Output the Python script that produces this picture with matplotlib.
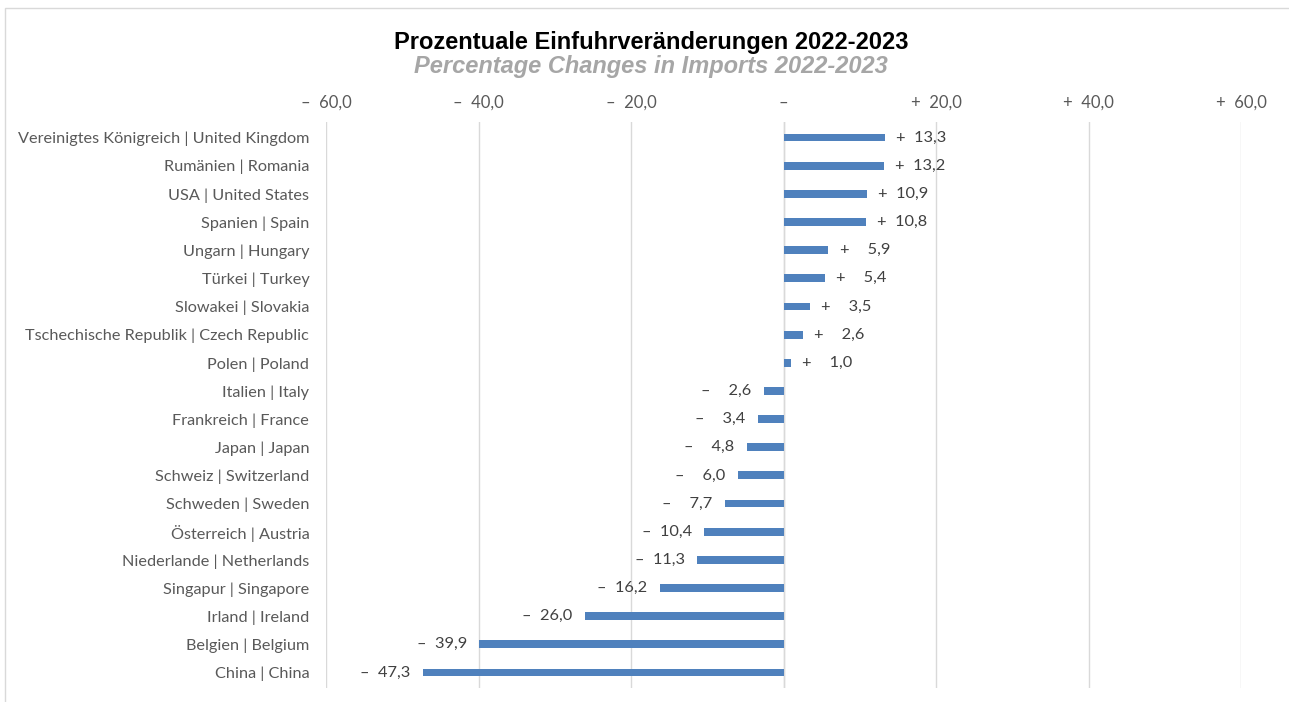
import matplotlib as mpl
import matplotlib.pyplot as plt
from matplotlib.patches import Rectangle

countries = [
    "Vereinigtes Königreich | United Kingdom",
    "Rumänien | Romania",
    "USA | United States",
    "Spanien | Spain",
    "Ungarn | Hungary",
    "Türkei | Turkey",
    "Slowakei | Slovakia",
    "Tschechische Republik | Czech Republic",
    "Polen | Poland",
    "Italien | Italy",
    "Frankreich | France",
    "Japan | Japan",
    "Schweiz | Switzerland",
    "Schweden | Sweden",
    "Österreich | Austria",
    "Niederlande | Netherlands",
    "Singapur | Singapore",
    "Irland | Ireland",
    "Belgien | Belgium",
    "China | China",
]
changes = [13.3, 13.2, 10.9, 10.8, 5.9, 5.4, 3.5, 2.6, 1.0, -2.6, -3.4, -4.8,
           -6.0, -7.7, -10.4, -11.3, -16.2, -26.0, -39.9, -47.3]
xticks = [-60, -40, -20, 0, 20, 40, 60]

BAR = "#4f81bd"
TXT = "#595959"
GRID = "#d9d9d9"
LABEL_FONT = ["Lato", "DejaVu Sans"]
TITLE_FONT = ["Liberation Sans Narrow", "Liberation Sans", "DejaVu Sans"]


def fmt(v, ticks=False):
    if v == 0:
        return "\u2013"
    sign = "+" if v > 0 else "\u2013"
    num = f"{abs(v):.1f}".replace(".", ",")
    if not ticks and abs(v) < 10:
        num = "\u2007" + num
    return f"{sign}  {num}"


fig = plt.figure(figsize=(12.89, 7.02), dpi=100)
fig.patches.append(Rectangle((5 / 1289, -0.05), 1.1, 1 - 8 / 702 + 0.05,
                             transform=fig.transFigure, fill=False,
                             edgecolor="#d9d9d9", lw=1.0))

ax = fig.add_axes([326 / 1289, 14 / 702, 915 / 1289, 566 / 702])
y = list(range(len(countries)))
ax.barh(y, changes, height=0.28, color=BAR, zorder=3)
ax.set_ylim(len(countries) - 0.45, -0.55)
ax.set_xlim(-60, 60)
ax.set_xticks(xticks)
ax.set_xticklabels([fmt(t, ticks=True) for t in xticks], family=LABEL_FONT,
                   fontsize=12, color=TXT)
ax.xaxis.tick_top()
ax.tick_params(axis="x", length=0, pad=8)
ax.set_yticks(y)
ax.set_yticklabels(countries, family=LABEL_FONT, fontsize=11.7, color=TXT)
ax.tick_params(axis="y", length=0, pad=12)
ax.grid(axis="x", color=GRID, lw=1.0, zorder=0)
for s in ax.spines.values():
    s.set_visible(False)
ax.axvline(0, color=GRID, lw=1.0, zorder=2)

for yi, v in zip(y, changes):
    if v >= 0:
        ax.annotate(fmt(v), (v, yi), xytext=(8, 0), textcoords="offset points",
                    ha="left", va="center", family=LABEL_FONT, fontsize=11.8, color="#404040")
    else:
        ax.annotate(fmt(v), (v, yi), xytext=(-9, 0), textcoords="offset points",
                    ha="right", va="center", family=LABEL_FONT, fontsize=11.8, color="#404040")

fig.text(0.505, 1 - 42 / 702, "Prozentuale Einfuhrveränderungen 2022-2023",
         ha="center", va="center", family=TITLE_FONT, fontsize=17, fontweight="bold",
         color="black")
fig.text(0.505, 1 - 67 / 702, "Percentage Changes in Imports 2022-2023",
         ha="center", va="center", family=TITLE_FONT, fontsize=17, fontweight="bold",
         style="italic", color="#a6a6a6")

fig.savefig("out.png", dpi=100)
